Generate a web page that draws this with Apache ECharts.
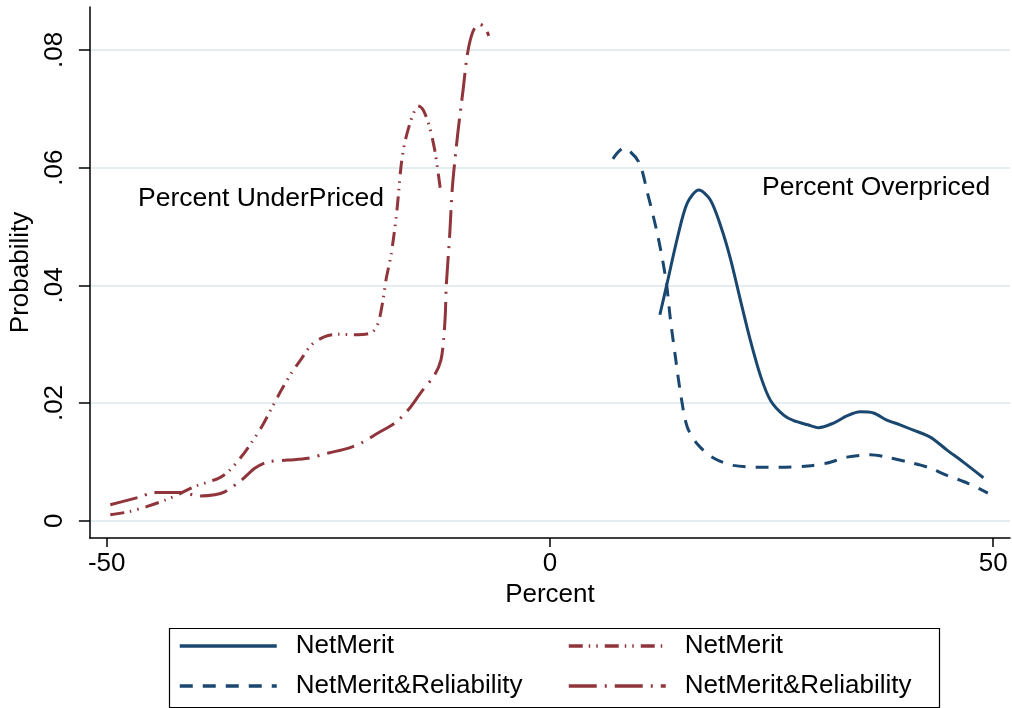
<!DOCTYPE html>
<html>
<head>
<meta charset="utf-8">
<script src="https://cdn.jsdelivr.net/npm/echarts@6/dist/echarts.min.js"></script>
<style>
  html, body { margin: 0; padding: 0; background: #fff; }
  #chart { width: 1012px; height: 708px; }
</style>
</head>
<body>
<div id="chart"></div>
<script>
// Kernel density of pricing error (percent), by rating scheme
// Overpriced side (positive percent)
const overNetMerit = [
  [12.4, 0.0350], [13.3, 0.0409], [14.4, 0.0482], [15.5, 0.0540], [16.8, 0.0562],
  [18.1, 0.0545], [19.3, 0.0499], [20.4, 0.0443], [21.5, 0.0374], [22.6, 0.0307],
  [23.8, 0.0244], [24.9, 0.0204], [26.4, 0.0179], [27.5, 0.0170], [29.1, 0.0163],
  [30.3, 0.0158], [32.0, 0.0166], [33.5, 0.0178], [35.0, 0.0185], [36.5, 0.0183],
  [38.0, 0.0171], [39.5, 0.0163], [41.0, 0.0154], [42.9, 0.0142], [44.8, 0.0120],
  [46.6, 0.0100], [48.9, 0.0073]
];
const overNetMeritRel = [
  [7.1, 0.0615], [8.3, 0.0633], [10.0, 0.0610], [11.0, 0.0557], [12.2, 0.0482],
  [13.1, 0.0408], [13.6, 0.0341], [14.2, 0.0273], [14.8, 0.0210], [15.5, 0.0159],
  [16.7, 0.0129], [18.5, 0.0106], [20.7, 0.0094], [23.4, 0.0091], [26.0, 0.0091],
  [29.1, 0.0093], [31.3, 0.0098], [33.5, 0.0108], [36.1, 0.0112], [38.0, 0.0108],
  [40.3, 0.0100], [42.6, 0.0091], [44.8, 0.0077], [47.1, 0.0064], [49.4, 0.0047]
];
// Underpriced side (negative percent)
const underNetMerit = [
  [-49.6, 0.0010], [-47.6, 0.0015], [-45.5, 0.0024], [-43.4, 0.0035], [-41.6, 0.0047],
  [-40.1, 0.0058], [-37.4, 0.0072], [-36.3, 0.0083], [-34.8, 0.0109], [-33.7, 0.0132],
  [-32.5, 0.0160], [-31.4, 0.0191], [-30.3, 0.0222], [-29.2, 0.0250], [-28.0, 0.0276],
  [-26.9, 0.0299], [-25.4, 0.0313], [-23.9, 0.0317], [-22.4, 0.0316], [-20.2, 0.0319],
  [-19.4, 0.0335], [-18.8, 0.0378], [-18.5, 0.0409], [-17.9, 0.0454], [-17.3, 0.0522],
  [-16.8, 0.0602], [-16.4, 0.0641], [-15.8, 0.0675], [-15.4, 0.0692], [-14.9, 0.0705],
  [-14.3, 0.0698], [-13.6, 0.0670], [-13.0, 0.0630], [-12.6, 0.0590], [-12.3, 0.0556]
];
const underNetMeritRel = [
  [-49.6, 0.0027], [-47.6, 0.0035], [-46.1, 0.0041], [-44.7, 0.0048], [-41.6, 0.0048],
  [-39.5, 0.0042], [-37.8, 0.0044], [-36.7, 0.0049], [-34.8, 0.0069], [-33.3, 0.0089],
  [-31.8, 0.0100], [-29.6, 0.0103], [-27.3, 0.0106], [-25.0, 0.0115], [-22.8, 0.0123],
  [-21.3, 0.0132], [-19.4, 0.0149], [-17.5, 0.0166], [-16.0, 0.0188], [-14.5, 0.0219],
  [-13.0, 0.0248], [-12.3, 0.0273], [-12.0, 0.0307], [-11.8, 0.0352], [-11.7, 0.0398],
  [-11.3, 0.0488], [-11.0, 0.0568], [-10.4, 0.0658], [-9.8, 0.0732], [-9.3, 0.0794],
  [-8.7, 0.0831], [-8.0, 0.0844], [-7.4, 0.0839], [-6.9, 0.0824]
];

const xTicks = [-50, 0, 50];
const yTicks = [0, 0.02, 0.04, 0.06, 0.08];
const legendLabels = {
  overNM: 'NetMerit',
  overNMR: 'NetMerit&Reliability',
  underNM: 'NetMerit',
  underNMR: 'NetMerit&Reliability'
};

const NAVY = '#1a476f';
const MAROON = '#90353b';
const FONT = '"Liberation Sans", Arial, Helvetica, sans-serif';

const chart = echarts.init(document.getElementById('chart'), null, { renderer: 'canvas' });

function curve(id, data, color, dash) {
  return {
    name: id,
    type: 'line',
    data: data,
    smooth: 0.3,
    symbol: 'none',
    lineStyle: { color: color, width: 3, type: dash, cap: 'butt' },
    itemStyle: { color: color },
    emphasis: { disabled: true },
    silent: true,
    animation: false
  };
}

// one legend block per key, laid out as a 2 x 2 table
function legendEntry(key, left, top) {
  return {
    left: left, top: top, orient: 'horizontal',
    itemWidth: 97, itemHeight: 14,
    data: [key],
    formatter: n => legendLabels[n],
    itemStyle: { color: 'rgba(0,0,0,0)', borderColor: 'rgba(0,0,0,0)', borderWidth: 0 },
    lineStyle: { width: 3.5 },
    textStyle: { fontFamily: FONT, fontSize: 26, color: '#000', lineHeight: 30, padding: [0, 0, 0, 14] },
    selectedMode: false
  };
}

chart.setOption({
  backgroundColor: '#fff',
  animation: false,
  grid: { left: 88, right: 2, top: 7, bottom: 170, containLabel: false },
  xAxis: {
    type: 'value',
    min: -51.9,
    max: 51.9,
    name: 'Percent',
    nameLocation: 'middle',
    nameGap: 38,
    nameTextStyle: { fontFamily: FONT, fontSize: 26, color: '#000' },
    axisLine: { show: true, onZero: false, lineStyle: { color: '#000', width: 1.5 } },
    axisTick: { show: true, length: 9, customValues: xTicks, lineStyle: { color: '#000', width: 1.5 } },
    axisLabel: { customValues: xTicks, margin: 13, fontFamily: FONT, fontSize: 26, color: '#000' },
    splitLine: { show: false }
  },
  yAxis: {
    type: 'value',
    min: -0.00294,
    max: 0.0873,
    name: 'Probability',
    nameLocation: 'middle',
    nameGap: 52,
    nameTextStyle: { fontFamily: FONT, fontSize: 26, color: '#000' },
    axisLine: { show: true, onZero: false, lineStyle: { color: '#000', width: 1.5 } },
    axisTick: { show: true, length: 11, customValues: yTicks, lineStyle: { color: '#000', width: 1.5 } },
    axisLabel: {
      customValues: yTicks,
      rotate: 90,
      margin: 22,
      fontFamily: FONT, fontSize: 26, color: '#000',
      formatter: v => (v === 0 ? '0' : v.toFixed(2).replace(/^0/, ''))
    },
    splitLine: { show: true, lineStyle: { color: '#e4edf0', width: 2 } }
  },
  legend: [
    legendEntry('overNM', 173, 626),
    legendEntry('overNMR', 173, 666),
    legendEntry('underNM', 562, 626),
    legendEntry('underNMR', 562, 666)
  ],
  graphic: [
    { type: 'rect', left: 167, top: 626, shape: { width: 770, height: 79 },
      style: { fill: 'none', stroke: '#000', lineWidth: 1.2 }, silent: true },
    { type: 'text', left: 138, top: 185,
      style: { text: 'Percent UnderPriced', font: '26.5px ' + FONT, fill: '#000' }, silent: true },
    { type: 'text', left: 762, top: 174,
      style: { text: 'Percent Overpriced', font: '26.5px ' + FONT, fill: '#000' }, silent: true }
  ],
  series: [
    curve('overNM', overNetMerit, NAVY, 'solid'),
    curve('overNMR', overNetMeritRel, NAVY, [13, 10]),
    curve('underNM', underNetMerit, MAROON, [14, 6, 1.5, 6, 1.5, 7]),
    curve('underNMR', underNetMeritRel, MAROON, [28, 8, 2, 8])
  ]
});
</script>
</body>
</html>
